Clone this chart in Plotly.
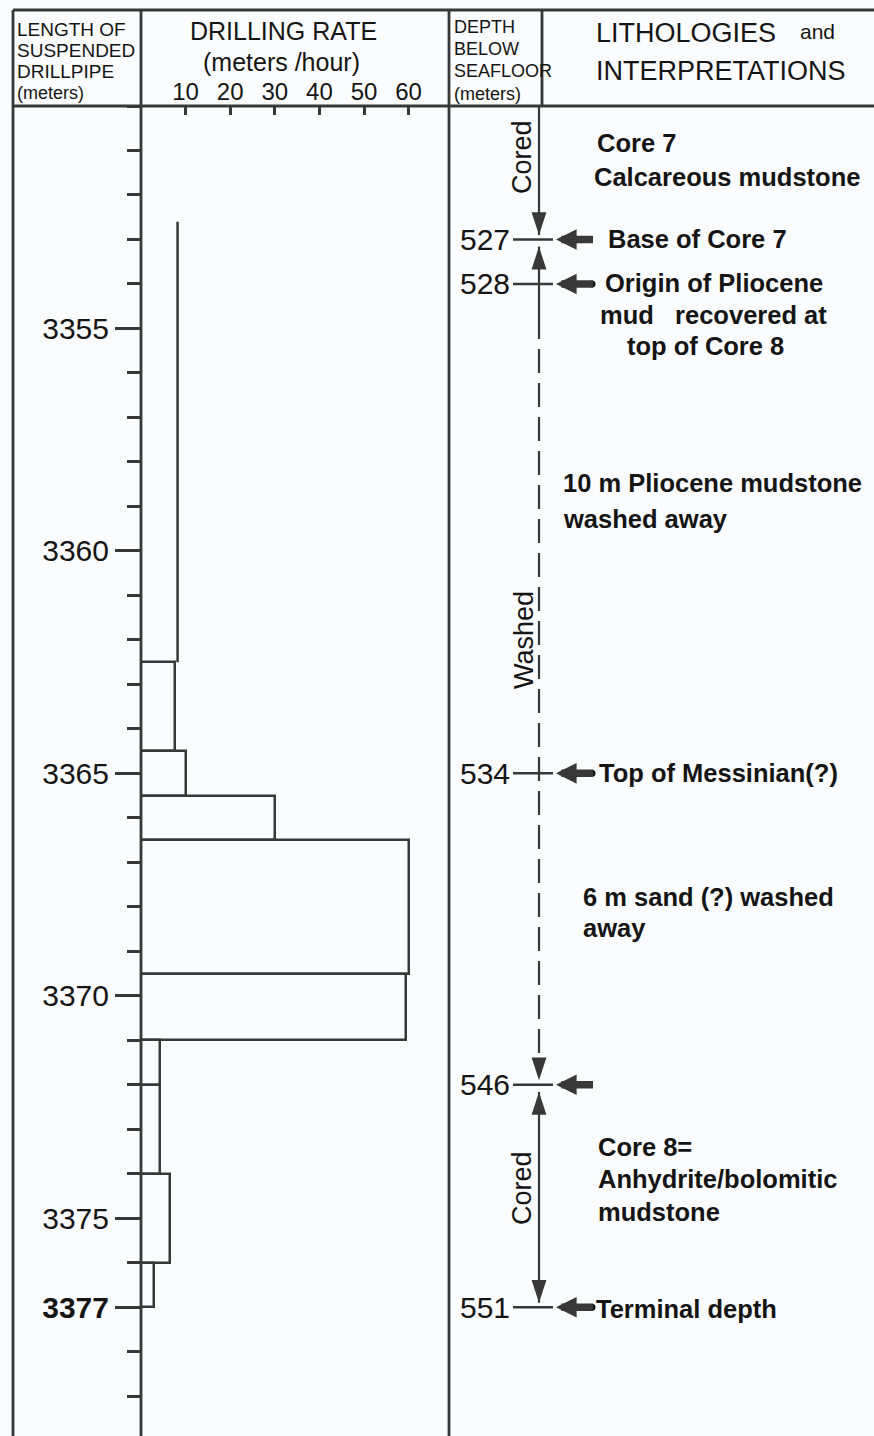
import plotly.graph_objects as go

W, H = 874, 1436

# ---- data -------------------------------------------------------------
# Drilling-rate log: boxes between pipe lengths (m) with rate (m/h)
rate_top = [3362.5, 3364.5, 3365.5, 3366.5, 3369.5, 3371.0, 3372.0, 3374.0, 3376.0]
rate_base = [3364.5, 3365.5, 3366.5, 3369.5, 3371.0, 3372.0, 3374.0, 3376.0, 3377.0]
drill_rate = [7.6, 10.0, 30.0, 60.0, 59.5, 4.2, 4.2, 6.5, 3.0]

# open-ended rate trace above the first box
trace_span = [3352.6, 3362.5]
trace_rate = 8.2

rate_ticks = [10, 20, 30, 40, 50, 60]
pipe_ticks = [3355, 3360, 3365, 3370, 3375, 3377]
pipe_tick_text = ["3355", "3360", "3365", "3370", "3375", "<b>3377</b>"]

# Depth below seafloor (m) and the suspended-pipe length at which each is marked
seafloor_depth = [527, 528, 534, 546, 551]
seafloor_at_pipe = [3353, 3354, 3365, 3372, 3377]
marker_dot = [False, True, True, False, True]

# Cored / washed intervals along the depth column (pipe length, m)
interval_top = [3350, 3353, 3372]
interval_base = [3353, 3372, 3377]
interval_name = ["Cored", "Washed", "Cored"]
interval_washed = [False, True, False]

# ---- layout constants (px) -------------------------------------------
HEAD_TOP, HEAD_BOT = 10, 106
PX_PER_M = 44.49
LEFT_X, PIPE_X, COL3_X, COL4_X, LINE_X = 13, 141, 449, 542, 539
RATE_PX = 4.46
PIPE_MIN = 3350.0
PIPE_MAX = PIPE_MIN + (H - HEAD_BOT) / PX_PER_M

BG = "#fafcfd"
LINE = "#383838"
INK = "#151515"
FONT = "Liberation Sans, Arial, Helvetica, sans-serif"
NARROW = "Liberation Sans Narrow, Arial Narrow, Liberation Sans, sans-serif"


def xp(px):
    return px / W


def yp(py):
    return 1 - py / H


fig = go.Figure()

# drilling-rate boxes
fig.add_trace(go.Bar(
    orientation="h",
    x=drill_rate,
    y=[(t + b) / 2 for t, b in zip(rate_top, rate_base)],
    width=[b - t for t, b in zip(rate_top, rate_base)],
    base=0,
    marker=dict(color=BG, line=dict(color=LINE, width=2.5)),
    xaxis="x", yaxis="y", hoverinfo="skip", showlegend=False,
))
fig.add_trace(go.Scatter(
    x=[trace_rate, trace_rate], y=trace_span, mode="lines",
    line=dict(color=LINE, width=2.5),
    xaxis="x", yaxis="y", hoverinfo="skip", showlegend=False,
))

# depth ticks in the seafloor column
tx, ty = [], []
for d in seafloor_at_pipe:
    tx += [513, 553, None]
    ty += [d, d, None]
fig.add_trace(go.Scatter(x=tx, y=ty, mode="lines", line=dict(color=LINE, width=2.5),
                         xaxis="x2", yaxis="y", hoverinfo="skip", showlegend=False))

# cored / washed interval lines with arrowheads
TIP_ABOVE, TIP_BELOW, SOLID_LEAD = 0.1, 0.16, 1.7
tips_y, tips_ang = [], []
for top, base, washed in zip(interval_top, interval_base, interval_washed):
    y0 = top + TIP_BELOW if top > PIPE_MIN else top
    y1 = base - TIP_ABOVE
    if top > PIPE_MIN:
        tips_y.append(y0)
        tips_ang.append(0)
    tips_y.append(y1)
    tips_ang.append(180)
    if washed:
        fig.add_trace(go.Scatter(x=[LINE_X, LINE_X], y=[y0, top + SOLID_LEAD], mode="lines",
                                 line=dict(color=LINE, width=2.2),
                                 xaxis="x2", yaxis="y", hoverinfo="skip", showlegend=False))
        fig.add_trace(go.Scatter(x=[LINE_X, LINE_X], y=[top + SOLID_LEAD, y1 - 0.3], mode="lines",
                                 line=dict(color=LINE, width=2.2, dash="24px,10px"),
                                 xaxis="x2", yaxis="y", hoverinfo="skip", showlegend=False))
    else:
        fig.add_trace(go.Scatter(x=[LINE_X, LINE_X], y=[y0, y1], mode="lines",
                                 line=dict(color=LINE, width=2.2),
                                 xaxis="x2", yaxis="y", hoverinfo="skip", showlegend=False))
fig.add_trace(go.Scatter(
    x=[LINE_X] * len(tips_y), y=tips_y, mode="markers",
    marker=dict(symbol="arrow", size=24, angle=tips_ang, color=LINE, line=dict(width=0)),
    xaxis="x2", yaxis="y", hoverinfo="skip", showlegend=False,
))

# small dots at the tails of some pointer arrows
dots = [d for d, f in zip(seafloor_at_pipe, marker_dot) if f]
fig.add_trace(go.Scatter(
    x=[592] * len(dots), y=dots, mode="markers",
    marker=dict(symbol="circle", size=7, color=INK),
    xaxis="x2", yaxis="y", hoverinfo="skip", showlegend=False,
))

ann = []

# seafloor depth labels and pointer arrows
for d, p in zip(seafloor_depth, seafloor_at_pipe):
    ann.append(dict(text=str(d), x=510, y=p, xref="x2", yref="y", xanchor="right",
                    yanchor="middle", showarrow=False,
                    font=dict(size=30, family=FONT, color=INK)))
    ann.append(dict(text="", x=556, y=p, xref="x2", yref="y", ax=37, ay=0,
                    showarrow=True, arrowhead=2, arrowwidth=7.5, arrowsize=0.55,
                    arrowcolor=LINE))

# interval names, rotated beside the line
for name, cx, cy in zip(interval_name, [522, 524, 522], [157, 640, 1188]):
    ann.append(dict(text=name, x=xp(cx), y=yp(cy), xref="paper", yref="paper",
                    xanchor="center", yanchor="middle", textangle=-90, showarrow=False,
                    font=dict(size=27, family=FONT, color=INK)))

# lithology notes
notes = [
    ("Core 7", 597, 143, "left"),
    ("Calcareous mudstone", 594, 177, "left"),
    ("Base of Core 7", 608, 239, "left"),
    ("Origin of Pliocene", 714, 283, "center"),
    ("mud\u00a0\u00a0\u00a0recovered at", 713, 315, "center"),
    ("top of Core 8", 705, 346, "center"),
    ("10 m Pliocene mudstone", 563, 483, "left"),
    ("washed away", 563, 519, "left"),
    ("Top of Messinian(?)", 599, 773, "left"),
    ("6 m sand (?) washed", 583, 897, "left"),
    ("away", 583, 928, "left"),
    ("Core 8=", 598, 1147, "left"),
    ("Anhydrite/bolomitic", 598, 1179, "left"),
    ("mudstone", 598, 1212, "left"),
    ("Terminal depth", 596, 1309, "left"),
]
for text, x, y, al in notes:
    ann.append(dict(text=text, x=xp(x), y=yp(y), xref="paper", yref="paper",
                    xanchor=al, yanchor="middle", showarrow=False,
                    font=dict(size=25.5, family=FONT, color=INK, weight="bold")))

# column headings
heads = [
    ("LENGTH OF", 17, 29, "left", 19, FONT),
    ("SUSPENDED", 17, 50, "left", 19, FONT),
    ("DRILLPIPE", 17, 71, "left", 19, FONT),
    ("(meters)", 17, 93, "left", 18, FONT),
    ("DRILLING RATE", 283, 31, "center", 25, FONT),
    ("(meters /hour)", 281, 62, "center", 25, FONT),
    ("DEPTH", 454, 27, "left", 18, FONT),
    ("BELOW", 454, 49, "left", 18, FONT),
    ("SEAFLOOR", 454, 71, "left", 18, FONT),
    ("(meters)", 454, 94, "left", 18, FONT),
    ("LITHOLOGIES", 596, 33, "left", 27, FONT),
    ("and", 800, 31, "left", 21, NARROW),
    ("INTERPRETATIONS", 596, 71, "left", 27, FONT),
]
for text, x, y, al, sz, fam in heads:
    ann.append(dict(text=text, x=xp(x), y=yp(y), xref="paper", yref="paper",
                    xanchor=al, yanchor="middle", showarrow=False,
                    font=dict(size=sz, family=fam, color=INK)))

for a in ann:
    a.setdefault("borderpad", 0)
    a.setdefault("borderwidth", 0)

# frame and column rules
shapes = []


def rule(x0, y0, x1, y1, w=2.8):
    shapes.append(dict(type="line", xref="paper", yref="paper",
                       x0=xp(x0), y0=yp(y0), x1=xp(x1), y1=yp(y1),
                       line=dict(color=LINE, width=w), layer="above"))


rule(LEFT_X, HEAD_TOP, W, HEAD_TOP, 3)
rule(LEFT_X, HEAD_BOT, W, HEAD_BOT, 3)
rule(LEFT_X, HEAD_TOP, LEFT_X, H)
rule(PIPE_X, HEAD_TOP, PIPE_X, H)
rule(COL3_X, HEAD_TOP, COL3_X, H)
rule(COL4_X, HEAD_TOP, COL4_X, HEAD_BOT)

fig.update_layout(
    width=W, height=H,
    margin=dict(l=0, r=0, t=0, b=0, pad=0),
    paper_bgcolor=BG, plot_bgcolor="rgba(0,0,0,0)",
    showlegend=False, barmode="overlay", bargap=0,
    annotations=ann, shapes=shapes,
    font=dict(family=FONT, color=INK),
    yaxis=dict(
        domain=[0, yp(HEAD_BOT)], range=[PIPE_MAX, PIPE_MIN],
        anchor="free", position=xp(PIPE_X), side="left",
        showline=False, showgrid=False, zeroline=False,
        tickmode="array", tickvals=pipe_ticks, ticktext=pipe_tick_text,
        ticks="outside", ticklen=26, tickwidth=2.5, tickcolor=LINE,
        tickfont=dict(size=30, family=FONT, color=INK),
        minor=dict(tickmode="linear", tick0=PIPE_MIN, dtick=1, ticks="outside",
                   ticklen=14, tickwidth=2.5, tickcolor=LINE, showgrid=False),
    ),
    xaxis=dict(
        domain=[xp(PIPE_X), xp(COL3_X)], range=[0, (COL3_X - PIPE_X) / RATE_PX],
        anchor="y", side="top",
        showline=False, showgrid=False, zeroline=False,
        tickmode="array", tickvals=rate_ticks,
        ticks="inside", ticklen=9, tickwidth=2.5, tickcolor=LINE,
        tickfont=dict(size=24, family=NARROW, color=INK),
    ),
    xaxis2=dict(domain=[0, 1], range=[0, W], anchor="y", visible=False,
                showgrid=False, zeroline=False),
)

fig.write_html("out.html")
